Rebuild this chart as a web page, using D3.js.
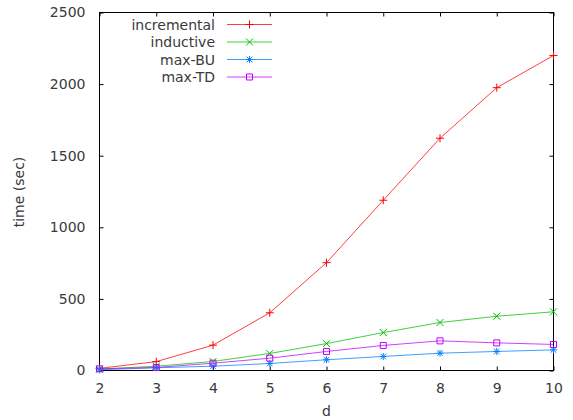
<!DOCTYPE html>
<html>
<head>
<meta charset="utf-8">
<script src="https://cdn.jsdelivr.net/npm/d3@7/dist/d3.min.js"></script>
<style>
  html, body { margin: 0; padding: 0; background: #fff; }
  svg { display: block; }
  text { font-family: "DejaVu Sans", sans-serif; font-size: 14px; fill: #3a3a3a; }
</style>
</head>
<body>
<svg id="chart" width="573" height="420"></svg>
<script>
// Run time per depth d for the four algorithms
const dValues = [2, 3, 4, 5, 6, 7, 8, 9, 10];
const incremental = [15, 62, 177, 403, 753, 1189, 1622, 1975, 2200];
const inductive = [10, 30, 63, 119, 188, 265, 335, 379, 410];
const maxBU = [5, 19, 30, 49, 75, 98, 121, 133, 144];
const maxTD = [12, 21, 51, 86, 133, 175, 207, 193, 182];
const seriesNames = ["incremental", "inductive", "max-BU", "max-TD"];
const seriesColors = ["#ff0000", "#00c000", "#0080ff", "#c000ff"];
const xTicks = [2, 3, 4, 5, 6, 7, 8, 9, 10];
const yTicks = [0, 500, 1000, 1500, 2000, 2500];

// gnuplot-like point shapes: plus, cross, asterisk, open square
const plus = { draw(c, s) { c.moveTo(-s, 0); c.lineTo(s, 0); c.moveTo(0, -s); c.lineTo(0, s); } };
const cross = { draw(c, s) { c.moveTo(-s, -s); c.lineTo(s, s); c.moveTo(-s, s); c.lineTo(s, -s); } };
const star = { draw(c, s) { plus.draw(c, s); cross.draw(c, s * 0.8); } };
const square = { draw(c, s) { c.rect(-s, -s, 2 * s, 2 * s); } };
const shapes = [[plus, 4], [cross, 3.5], [star, 3.5], [square, 3]];

const svg = d3.select("#chart");
const plotLeft = 99.5, plotRight = 553.5, plotTop = 12.5, plotBottom = 370.5;

const x = d3.scaleLinear().domain([2, 10]).range([plotLeft, plotRight]);
const y = d3.scaleLinear().domain([0, 2500]).range([plotBottom, plotTop]);

const tickStyle = g => {
  g.select(".domain").remove();
  g.selectAll(".tick line").attr("stroke", "#000");
  g.selectAll("text").attr("fill", "#3a3a3a").style("font-family", "DejaVu Sans, sans-serif").style("font-size", "14px");
};

// Axes with inward ticks; top and right are mirrored without labels
svg.append("g").attr("transform", `translate(0,${plotBottom})`)
  .call(d3.axisBottom(x).tickValues(xTicks).tickFormat(d3.format("d")).tickSizeInner(-4).tickSizeOuter(0).tickPadding(13))
  .call(tickStyle);
svg.append("g").attr("transform", `translate(0,${plotTop})`)
  .call(d3.axisTop(x).tickValues(xTicks).tickFormat("").tickSizeInner(-4).tickSizeOuter(0))
  .call(tickStyle);
svg.append("g").attr("transform", `translate(${plotLeft},0)`)
  .call(d3.axisLeft(y).tickValues(yTicks).tickFormat(d3.format("d")).tickSizeInner(-4).tickSizeOuter(0).tickPadding(14))
  .call(tickStyle);
svg.append("g").attr("transform", `translate(${plotRight},0)`)
  .call(d3.axisRight(y).tickValues(yTicks).tickFormat("").tickSizeInner(-4).tickSizeOuter(0))
  .call(tickStyle);

// Plot border
svg.append("rect")
  .attr("x", plotLeft).attr("y", plotTop)
  .attr("width", plotRight - plotLeft).attr("height", plotBottom - plotTop)
  .attr("fill", "none").attr("stroke", "#000").attr("stroke-width", 1);

const seriesData = [incremental, inductive, maxBU, maxTD];
const line = d3.line().x((d, i) => x(dValues[i])).y(d => y(d));

seriesData.forEach((vals, k) => {
  const g = svg.append("g");
  g.append("path").datum(vals)
    .attr("d", line)
    .attr("fill", "none")
    .attr("stroke", seriesColors[k])
    .attr("stroke-opacity", 0.75)
    .attr("stroke-width", 1);
  g.selectAll("path.pt").data(vals).join("path")
    .attr("class", "pt")
    .attr("transform", (d, i) => `translate(${x(dValues[i])},${y(d)})`)
    .attr("d", d3.symbol().type(shapes[k][0]).size(shapes[k][1]))
    .attr("fill", "none")
    .attr("stroke", seriesColors[k])
    .attr("stroke-width", 1);
});

// Legend
const legendRows = [24.5, 42, 59.5, 77];
seriesNames.forEach((name, k) => {
  const ly = legendRows[k];
  svg.append("text")
    .attr("x", 215).attr("y", ly).attr("dy", "0.36em")
    .attr("text-anchor", "end").text(name);
  svg.append("line")
    .attr("x1", 227).attr("x2", 272).attr("y1", ly).attr("y2", ly)
    .attr("stroke", seriesColors[k]).attr("stroke-opacity", 0.75).attr("stroke-width", 1);
  svg.append("path")
    .attr("transform", `translate(249.5,${ly})`)
    .attr("d", d3.symbol().type(shapes[k][0]).size(shapes[k][1]))
    .attr("fill", "none").attr("stroke", seriesColors[k]).attr("stroke-width", 1);
});

// Axis titles
svg.append("text")
  .attr("transform", `translate(19,192) rotate(-90)`)
  .attr("text-anchor", "middle").attr("dy", "0.36em")
  .text("time (sec)");
svg.append("text")
  .attr("x", (plotLeft + plotRight) / 2).attr("y", 411).attr("dy", "0.36em")
  .attr("text-anchor", "middle")
  .text("d");
</script>
</body>
</html>
